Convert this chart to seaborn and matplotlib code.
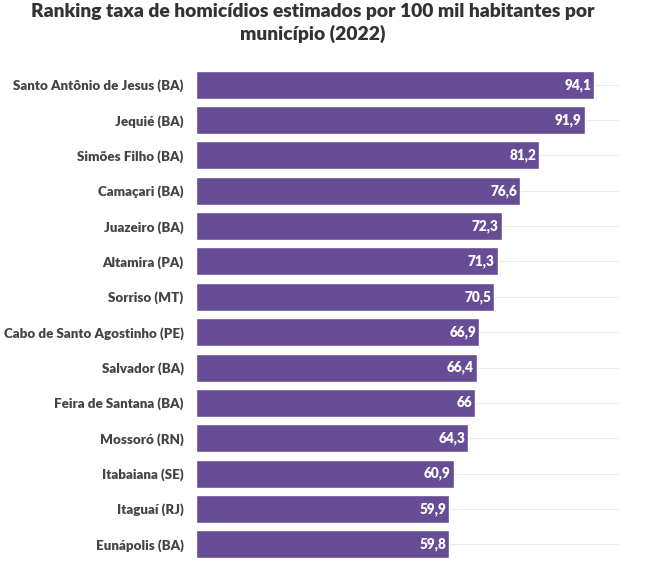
import numpy as np
import pandas as pd
import matplotlib
matplotlib.use('Agg')
import matplotlib.pyplot as plt
import seaborn as sns

municipios = ['Santo Antônio de Jesus (BA)', 'Jequié (BA)', 'Simões Filho (BA)', 'Camaçari (BA)',
              'Juazeiro (BA)', 'Altamira (PA)', 'Sorriso (MT)', 'Cabo de Santo Agostinho (PE)',
              'Salvador (BA)', 'Feira de Santana (BA)', 'Mossoró (RN)', 'Itabaiana (SE)',
              'Itaguaí (RJ)', 'Eunápolis (BA)']
taxas = [94.1, 91.9, 81.2, 76.6, 72.3, 71.3, 70.5, 66.9, 66.4, 66.0, 64.3, 60.9, 59.9, 59.8]
rotulos = ['94,1', '91,9', '81,2', '76,6', '72,3', '71,3', '70,5', '66,9', '66,4', '66', '64,3',
           '60,9', '59,9', '59,8']

df = pd.DataFrame({'Municipio': municipios, 'Taxa': taxas})

sns.set_style('white')
plt.rcParams['font.family'] = ['Lato', 'DejaVu Sans']

fig = plt.figure(figsize=(6.58, 5.63), dpi=100)
ax = fig.add_axes([196/658, 1-562/563, (619-196)/658, (562-67)/563])

sns.barplot(data=df, x='Taxa', y='Municipio', color='#674c96', saturation=1, width=0.79, ax=ax, zorder=2)

for i, (v, lab) in enumerate(zip(taxas, rotulos)):
    ax.text(v - 0.7, i, lab, ha='right', va='center', color='white', fontsize=9.8, fontweight='heavy', zorder=3)

ax.set_xlim(0, 100)
ax.set_ylim(13.5, -0.5)
ax.set_xlabel('')
ax.set_ylabel('')
ax.set_xticks([])
ax.set_yticks(range(len(municipios)))
ax.set_yticklabels(municipios, fontsize=9.6, fontweight='heavy', color='#444444')
ax.tick_params(axis='y', length=0, pad=9)
for y in range(len(municipios)):
    ax.axhline(y, color='#ebebeb', lw=0.8, zorder=0)
sns.despine(ax=ax, left=True, bottom=True)

fig.text(313/658, 1-12/563, 'Ranking taxa de homicídios estimados por 100 mil habitantes por',
         ha='center', va='center', fontsize=13.9, fontweight='heavy', color='#333333')
fig.text(313/658, 1-34/563, 'município (2022)',
         ha='center', va='center', fontsize=13.9, fontweight='heavy', color='#333333')

fig.savefig('out.png', dpi=100)
